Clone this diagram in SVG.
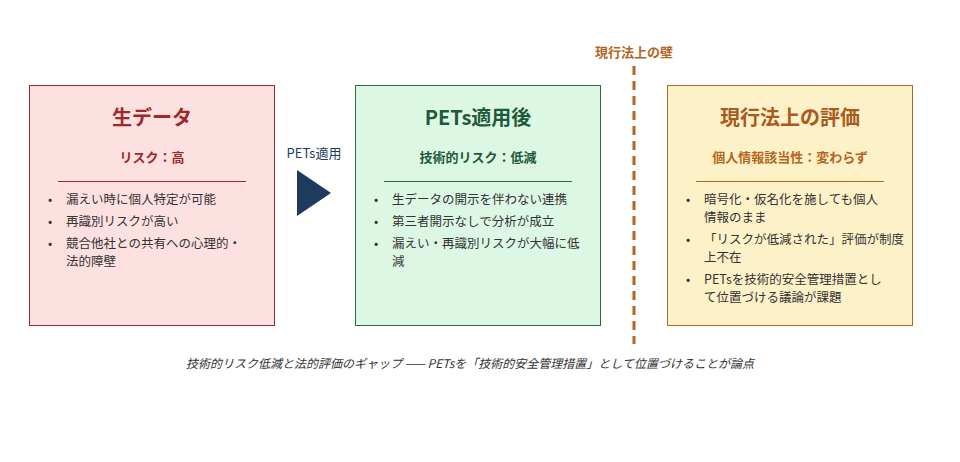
<svg xmlns="http://www.w3.org/2000/svg" width="960" height="462" viewBox="0 0 960 462">
<style>
text{font-family:"Noto Sans CJK JP","Noto Sans",sans-serif}
.t{font-size:20px;font-weight:bold;text-anchor:middle}
.s{font-size:13px;font-weight:bold;text-anchor:middle}
.b{font-size:12.5px;fill:#333}
</style>
<rect width="960" height="462" fill="#fff"/>
<g id="raw">
<rect x="29.5" y="85.5" width="245" height="240" fill="#fde0e0" stroke="#9b2a2a"/>
<text class="t" x="152" y="125" fill="#9b2a2a">生データ</text>
<text class="s" x="152" y="162" fill="#9b2a2a">リスク：高</text>
<line x1="58" y1="181.5" x2="246" y2="181.5" stroke="#9b2a2a"/>
<text class="b" x="48" y="204">•</text><text class="b" x="66" y="204">漏えい時に個人特定が可能</text>
<text class="b" x="48" y="226">•</text><text class="b" x="66" y="226">再識別リスクが高い</text>
<text class="b" x="48" y="248">•</text><text class="b" x="66" y="248">競合他社との共有への心理的・</text>
<text class="b" x="66" y="266">法的障壁</text>
</g>
<g id="pets">
<rect x="355.5" y="85.5" width="245" height="240" fill="#dcf8e4" stroke="#2a6a48"/>
<text class="t" x="478" y="125" fill="#1f5a3a">PETs適用後</text>
<text class="s" x="478" y="162" fill="#1f5a3a">技術的リスク：低減</text>
<line x1="384" y1="181.5" x2="572" y2="181.5" stroke="#2a6a48"/>
<text class="b" x="374" y="204">•</text><text class="b" x="392" y="204">生データの開示を伴わない連携</text>
<text class="b" x="374" y="226">•</text><text class="b" x="392" y="226">第三者開示なしで分析が成立</text>
<text class="b" x="374" y="248">•</text><text class="b" x="392" y="248">漏えい・再識別リスクが大幅に低</text>
<text class="b" x="392" y="266">減</text>
</g>
<g id="law">
<rect x="667.5" y="85.5" width="245" height="240" fill="#fdf1c8" stroke="#a86a2a"/>
<text class="t" x="790" y="125" fill="#a85a1f">現行法上の評価</text>
<text class="s" x="790" y="162" fill="#b5651d">個人情報該当性：変わらず</text>
<line x1="696" y1="181.5" x2="884" y2="181.5" stroke="#a86a2a"/>
<text class="b" x="686" y="204">•</text><text class="b" x="704" y="204">暗号化・仮名化を施しても個人</text>
<text class="b" x="704" y="222">情報のまま</text>
<text class="b" x="686" y="244">•</text><text class="b" x="704" y="244">「リスクが低減された」評価が制度</text>
<text class="b" x="704" y="262">上不在</text>
<text class="b" x="686" y="284">•</text><text class="b" x="704" y="284">PETsを技術的安全管理措置とし</text>
<text class="b" x="704" y="302">て位置づける議論が課題</text>
</g>
<g id="connectors">
<polygon points="297,170 331,193 297,216" fill="#1f3a5f"/>
<text x="314" y="158" font-size="13" text-anchor="middle" fill="#1f3a5f">PETs適用</text>
<line x1="634" y1="66" x2="634" y2="344" stroke="#b5651d" stroke-width="3" stroke-dasharray="9,6"/>
<text x="634" y="57" font-size="13" font-weight="bold" text-anchor="middle" fill="#b5651d">現行法上の壁</text>
</g>
<text x="470" y="368" font-size="12" font-style="italic" text-anchor="middle" fill="#333">技術的リスク低減と法的評価のギャップ —— PETsを「技術的安全管理措置」として位置づけることが論点</text>
</svg>
